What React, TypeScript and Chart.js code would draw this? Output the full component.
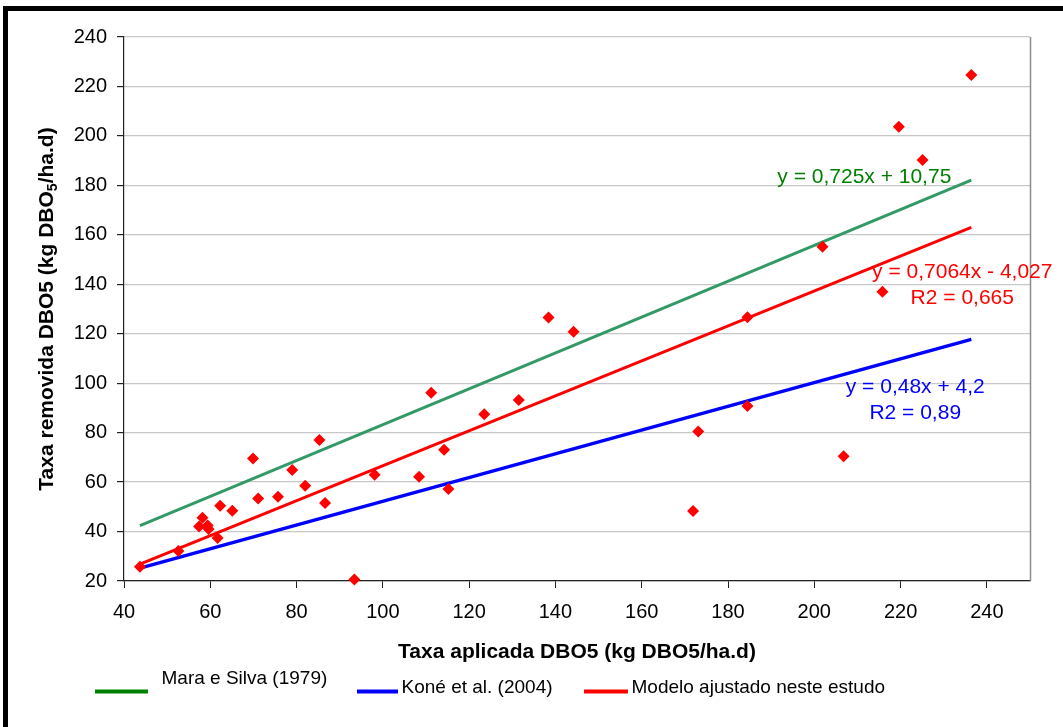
import React, { useEffect, useRef } from 'react';
import { Chart, registerables } from 'chart.js';

Chart.register(...registerables);

// Measured points: applied vs removed BOD5 load
const appliedLoad = [43.7, 52.6, 57.4, 58.2, 59.4, 59.6, 61.7, 62.3, 65.1, 69.9, 71.1, 75.7, 79.0, 82.0, 85.3, 86.6, 93.4, 98.1, 108.4, 111.2, 114.2, 115.2, 123.5, 131.5, 138.4, 144.2, 171.9, 173.1, 184.5, 184.5, 201.9, 206.8, 215.8, 219.6, 225.1, 236.4];
const removedLoad = [25.8, 32.1, 42.0, 45.6, 42.4, 41.0, 37.4, 50.4, 48.4, 69.5, 53.4, 54.1, 64.9, 58.5, 77.0, 51.5, 20.6, 63.0, 62.2, 96.1, 73.1, 57.2, 87.4, 93.2, 126.6, 120.8, 48.3, 80.5, 90.8, 126.7, 155.2, 70.5, 137.0, 203.7, 190.3, 224.6];

// Trend-line end points
const fitRangeX = [43.7, 236.4];
const maraSilvaY = [42.4, 182.1];
const koneY = [25.2, 117.7];
const modelY = [26.8, 163.0];

// Tick values
const xTickValues = [40, 60, 80, 100, 120, 140, 160, 180, 200, 220, 240];
const yTickValues = [20, 40, 60, 80, 100, 120, 140, 160, 180, 200, 220, 240];

// Legend / series names
const seriesNames = ['Mara e Silva (1979)', 'Koné et al. (2004)', 'Modelo ajustado neste estudo'];

// Equation labels (text anchored in data coordinates)
const equationTexts = [
  ['y = 0,725x + 10,75'],
  ['y = 0,7064x - 4,027', 'R2 = 0,665'],
  ['y = 0,48x + 4,2', 'R2 = 0,89'],
];
const equationAnchorX = [211.6, 234.3, 223.4];
const equationAnchorY = [183.2, 144.9, 98.5];

const FONT = '"Liberation Sans", Arial, Helvetica, sans-serif';

const decorPlugin = {
  id: 'decor',
  beforeDraw(chart: any) {
    const ctx = chart.ctx;
    ctx.save();
    ctx.fillStyle = '#ffffff';
    ctx.fillRect(0, 0, chart.width, chart.height);
    ctx.restore();
  },
  afterDraw(chart: any) {
    const ctx = chart.ctx;
    const area = chart.chartArea;
    const xs = chart.scales.x;
    const ys = chart.scales.y;
    ctx.save();

    // plot area right border
    ctx.strokeStyle = '#8c8c8c';
    ctx.lineWidth = 1.5;
    ctx.beginPath();
    ctx.moveTo(Math.round(area.right) + 0.5, area.top);
    ctx.lineTo(Math.round(area.right) + 0.5, area.bottom);
    ctx.stroke();

    // outer frame (top + left thick black)
    ctx.fillStyle = '#000000';
    ctx.fillRect(3, 6, chart.width, 5);
    ctx.fillRect(3, 6, 5, chart.height);

    // equations
    const colors = ['#008000', '#ff0000', '#0000ff'];
    ctx.font = `21px ${FONT}`;
    ctx.textAlign = 'center';
    ctx.textBaseline = 'middle';
    equationTexts.forEach((lines, i) => {
      const px = xs.getPixelForValue(equationAnchorX[i]);
      const py = ys.getPixelForValue(equationAnchorY[i]);
      ctx.fillStyle = colors[i];
      lines.forEach((t, j) => ctx.fillText(t, px, py + j * 26.5));
    });

    // x axis title
    ctx.fillStyle = '#000';
    ctx.font = `bold 21px ${FONT}`;
    ctx.textAlign = 'center';
    ctx.fillText('Taxa aplicada DBO5 (kg DBO5/ha.d)', (area.left + area.right) / 2, 652);

    // y axis title with subscript
    const mainFont = `bold 21px ${FONT}`;
    const subFont = `bold 14px ${FONT}`;
    const partA = 'Taxa removida DBO5 (kg DBO';
    const partSub = '5';
    const partB = '/ha.d)';
    ctx.font = mainFont;
    const wA = ctx.measureText(partA).width;
    const wB = ctx.measureText(partB).width;
    ctx.font = subFont;
    const wS = ctx.measureText(partSub).width;
    const total = wA + wS + wB;
    ctx.translate(45, (area.top + area.bottom) / 2);
    ctx.rotate(-Math.PI / 2);
    ctx.textAlign = 'left';
    ctx.textBaseline = 'alphabetic';
    let cx = -total / 2;
    ctx.font = mainFont;
    ctx.fillText(partA, cx, 7.5);
    cx += wA;
    ctx.font = subFont;
    ctx.fillText(partSub, cx, 12);
    cx += wS;
    ctx.font = mainFont;
    ctx.fillText(partB, cx, 7.5);
    ctx.setTransform(1, 0, 0, 1, 0, 0);

    // legend
    const legendColors = ['#008000', '#0000ff', '#ff0000'];
    const sampleX0 = [95, 357, 584];
    const sampleX1 = [148, 398, 628];
    const textX = [161.5, 401.5, 631.5];
    const textY = [678.5, 688, 688];
    ctx.lineWidth = 4;
    ctx.font = `19px ${FONT}`;
    ctx.textAlign = 'left';
    ctx.textBaseline = 'middle';
    seriesNames.forEach((name, i) => {
      ctx.strokeStyle = legendColors[i];
      ctx.beginPath();
      ctx.moveTo(sampleX0[i], 691.5);
      ctx.lineTo(sampleX1[i], 691.5);
      ctx.stroke();
      ctx.fillStyle = '#000';
      ctx.fillText(name, textX[i], textY[i]);
    });

    ctx.restore();
  },
};

export default function App() {
  const canvasRef = useRef<HTMLCanvasElement | null>(null);

  useEffect(() => {
    if (!canvasRef.current) return;
    const points = appliedLoad.map((x, i) => ({ x, y: removedLoad[i] }));
    const line = (ys: number[]) => fitRangeX.map((x, i) => ({ x, y: ys[i] }));

    const chart = new Chart(canvasRef.current, {
      type: 'scatter',
      data: {
        datasets: [
          {
            label: 'Dados',
            data: points,
            pointStyle: 'rectRot',
            pointRadius: 6,
            pointBackgroundColor: '#ff0000',
            pointBorderColor: '#ff0000',
            pointBorderWidth: 0,
            showLine: false,
            clip: false,
            order: 0,
          } as any,
          {
            label: seriesNames[0],
            data: line(maraSilvaY),
            showLine: true,
            borderColor: '#339966',
            borderWidth: 3,
            pointRadius: 0,
            order: 1,
          },
          {
            label: seriesNames[1],
            data: line(koneY),
            showLine: true,
            borderColor: '#0000ff',
            borderWidth: 3.5,
            pointRadius: 0,
            order: 1,
          },
          {
            label: seriesNames[2],
            data: line(modelY),
            showLine: true,
            borderColor: '#ff0000',
            borderWidth: 3,
            pointRadius: 0,
            order: 1,
          },
        ],
      },
      options: {
        responsive: false,
        animation: false,
        devicePixelRatio: 1,
        layout: { padding: { left: 0, top: 37, right: 33, bottom: 0 } },
        plugins: {
          legend: { display: false },
          tooltip: { enabled: false },
          title: { display: false },
        },
        scales: {
          x: {
            type: 'linear',
            min: 40,
            max: 250,
            afterBuildTicks: (scale: any) => {
              scale.ticks = xTickValues.map((v) => ({ value: v }));
            },
            afterFit: (scale: any) => {
              scale.height = 146;
            },
            ticks: {
              color: '#000',
              font: { family: FONT, size: 20 },
              padding: 12,
              maxRotation: 0,
              autoSkip: false,
            },
            grid: {
              drawOnChartArea: false,
              drawTicks: true,
              tickLength: 7,
              tickColor: '#222',
            },
            border: { color: '#222', width: 1.2 },
          },
          y: {
            type: 'linear',
            min: 20,
            max: 240,
            afterBuildTicks: (scale: any) => {
              scale.ticks = yTickValues.map((v) => ({ value: v }));
            },
            afterFit: (scale: any) => {
              scale.width = 124;
            },
            ticks: {
              color: '#000',
              font: { family: FONT, size: 20 },
              padding: 10,
              autoSkip: false,
            },
            grid: {
              color: '#c8c8c8',
              lineWidth: 1.2,
              drawTicks: true,
              tickLength: 7,
              tickColor: '#222',
            },
            border: { color: '#222', width: 1.2 },
          },
        },
      },
      plugins: [decorPlugin],
    });
    return () => chart.destroy();
  }, []);

  return (
    <div style={{ position: 'absolute', left: 0, top: 0, width: 1063, height: 727, background: '#fff' }}>
      <canvas ref={canvasRef} width={1063} height={727} style={{ display: 'block' }} />
    </div>
  );
}
